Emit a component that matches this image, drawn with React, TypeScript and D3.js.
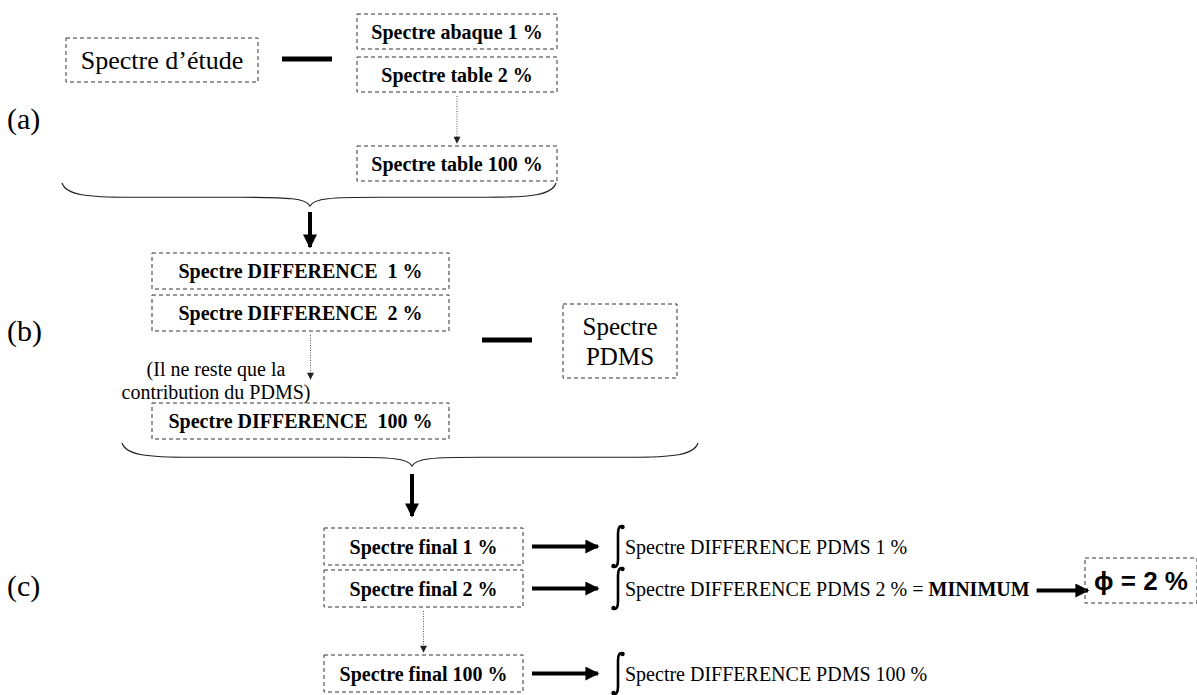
import * as d3 from "d3";
import { useEffect, useRef } from "react";

// Labels of the diagram
const panelLabels: string[] = ["(a)", "(b)", "(c)"];
const studySpectrum = "Spectre d’étude";
const tableSpectra: string[] = ["Spectre abaque 1 %", "Spectre table 2 %", "Spectre table 100 %"];
const differenceSpectra: string[] = [
  "Spectre DIFFERENCE  1 %",
  "Spectre DIFFERENCE  2 %",
  "Spectre DIFFERENCE  100 %",
];
const pdmsSpectrum: string[] = ["Spectre", "PDMS"];
const noteLines: string[] = ["(Il ne reste que la", "contribution du PDMS)"];
const finalSpectra: string[] = ["Spectre final 1 %", "Spectre final 2 %", "Spectre final 100 %"];
const integralLabels: string[] = [
  "Spectre DIFFERENCE PDMS 1 %",
  "Spectre DIFFERENCE PDMS 2 %",
  "Spectre DIFFERENCE PDMS 100 %",
];
const minimumLabel = "MINIMUM";
const resultLabel = "ϕ = 2 %";

const width = 1197;
const height = 695;
const serif = "Liberation Serif";
const sans = "Liberation Sans";

export default function App() {
  const svgRef = useRef<SVGSVGElement>(null);

  useEffect(() => {
    const svg = d3.select(svgRef.current);
    svg.selectAll("*").remove();

    const defs = svg.append("defs");
    defs
      .append("marker")
      .attr("id", "bold")
      .attr("viewBox", "0 0 10 10")
      .attr("refX", 9)
      .attr("refY", 5)
      .attr("markerWidth", 15)
      .attr("markerHeight", 14)
      .attr("markerUnits", "userSpaceOnUse")
      .attr("orient", "auto")
      .append("path")
      .attr("d", "M0,0 L10,5 L0,10 Z")
      .attr("fill", "#000");
    defs
      .append("marker")
      .attr("id", "thin")
      .attr("viewBox", "0 0 10 10")
      .attr("refX", 9)
      .attr("refY", 5)
      .attr("markerWidth", 8)
      .attr("markerHeight", 7)
      .attr("markerUnits", "userSpaceOnUse")
      .attr("orient", "auto")
      .append("path")
      .attr("d", "M0,0 L10,5 L0,10 Z")
      .attr("fill", "#222");

    const box = (x: number, y: number, w: number, h: number) =>
      svg
        .append("rect")
        .attr("x", x)
        .attr("y", y)
        .attr("width", w)
        .attr("height", h)
        .attr("fill", "none")
        .attr("stroke", "#333")
        .attr("stroke-width", 1)
        .attr("stroke-dasharray", "4,3");

    const label = (x: number, y: number, t: string, size: number, bold = false, anchor = "middle", font = serif) =>
      svg
        .append("text")
        .attr("x", x)
        .attr("y", y)
        .attr("text-anchor", anchor)
        .attr("dominant-baseline", "central")
        .style("font-family", font)
        .style("white-space", "pre")
        .attr("font-size", size)
        .attr("font-weight", bold ? "bold" : "normal")
        .attr("fill", "#000")
        .text(t);

    const boldArrow = (x1: number, y1: number, x2: number, y2: number) =>
      svg
        .append("line")
        .attr("x1", x1)
        .attr("y1", y1)
        .attr("x2", x2)
        .attr("y2", y2)
        .attr("stroke", "#000")
        .attr("stroke-width", 4)
        .attr("marker-end", "url(#bold)");

    const dottedArrow = (x: number, y1: number, y2: number) =>
      svg
        .append("line")
        .attr("x1", x)
        .attr("y1", y1)
        .attr("x2", x)
        .attr("y2", y2)
        .attr("stroke", "#555")
        .attr("stroke-width", 1)
        .attr("stroke-dasharray", "1,1.5")
        .attr("marker-end", "url(#thin)");

    const dash = (x1: number, x2: number, y: number) =>
      svg
        .append("line")
        .attr("x1", x1)
        .attr("x2", x2)
        .attr("y1", y)
        .attr("y2", y)
        .attr("stroke", "#000")
        .attr("stroke-width", 5);

    const brace = (x1: number, x2: number, xm: number, y0: number, h: number) => {
      const ym = y0 + h * 0.62;
      const p = d3.path();
      p.moveTo(x1, y0);
      p.bezierCurveTo(x1 + 4, ym - 2, x1 + 25, ym, x1 + 70, ym);
      p.lineTo(xm - 70, ym);
      p.bezierCurveTo(xm - 20, ym, xm - 4, ym + 1, xm, y0 + h);
      p.bezierCurveTo(xm + 4, ym + 1, xm + 20, ym, xm + 70, ym);
      p.lineTo(x2 - 70, ym);
      p.bezierCurveTo(x2 - 25, ym, x2 - 4, ym - 2, x2, y0);
      svg.append("path").attr("d", p.toString()).attr("fill", "none").attr("stroke", "#222").attr("stroke-width", 1.2);
    };

    const integral = (x: number, y: number) => {
      const p = d3.path();
      p.moveTo(x + 5, y - 20);
      p.quadraticCurveTo(x, y - 22, x, y - 13);
      p.lineTo(x, y + 13);
      p.quadraticCurveTo(x, y + 22, x - 5, y + 20);
      svg.append("path").attr("d", p.toString()).attr("fill", "none").attr("stroke", "#000").attr("stroke-width", 2.6).attr("stroke-linecap", "round");
      svg.append("circle").attr("cx", x + 4.5).attr("cy", y - 19.5).attr("r", 2.2).attr("fill", "#000");
      svg.append("circle").attr("cx", x - 4.5).attr("cy", y + 19.5).attr("r", 2.2).attr("fill", "#000");
    };

    // stack of three boxes: two joined, then dotted arrow, then last
    const stack = (labels: string[], x: number, w: number, tops: number[], h: number, arrowDx = 0, arrowEnd?: number) => {
      labels.forEach((t, i) => {
        box(x, tops[i], w, h);
        label(x + w / 2, tops[i] + h / 2, t, 20, true);
      });
      dottedArrow(x + w / 2 + arrowDx, tops[1] + h + 4, arrowEnd ?? tops[2] - 3);
    };

    // panel labels
    const panelY = d3.scaleOrdinal<string, number>().domain(panelLabels).range([118, 330, 585]);
    panelLabels.forEach((p) => label(7, panelY(p), p, 30, false, "start"));

    // (a)
    box(66, 38, 192, 44);
    label(162, 60, studySpectrum, 26);
    dash(282, 332, 59);
    stack(tableSpectra, 357, 200, [14, 57, 146], 35);
    brace(62, 556, 310, 183, 23);
    boldArrow(310, 212, 310, 247);

    // (b)
    stack(differenceSpectra, 152, 297, [253, 295, 403], 36, 10, 379);
    noteLines.forEach((t, i) => label(216, 369 + i * 23, t, 20));
    dash(482, 532, 340);
    box(563, 304, 114, 74);
    pdmsSpectrum.forEach((t, i) => label(620, 326 + i * 30, t, 25));
    brace(122, 698, 412, 443, 23);
    boldArrow(412, 474, 412, 516);

    // (c)
    const finalTops = [528, 570, 655];
    stack(finalSpectra, 324, 199, finalTops, 37);
    integralLabels.forEach((t, i) => {
      const cy = finalTops[i] + 18.5;
      boldArrow(532, cy, 598, cy);
      integral(618, cy);
      const tx = label(625, cy, t, 20, false, "start");
      if (i === 1) {
        tx.append("tspan").text(" = ");
        tx.append("tspan").attr("font-weight", "bold").text(minimumLabel);
        const end = 625 + (tx.node() as SVGTextElement).getComputedTextLength();
        boldArrow(end + 7, cy + 2, 1088, cy + 2);
      }
    });
    box(1085, 558, 112, 45);
    label(1141, 581, resultLabel, 26, true, "middle", sans);
  }, []);

  return (
    <svg
      ref={svgRef}
      width={width}
      height={height}
      style={{ position: "absolute", left: 0, top: 0, background: "#fff" }}
    />
  );
}
